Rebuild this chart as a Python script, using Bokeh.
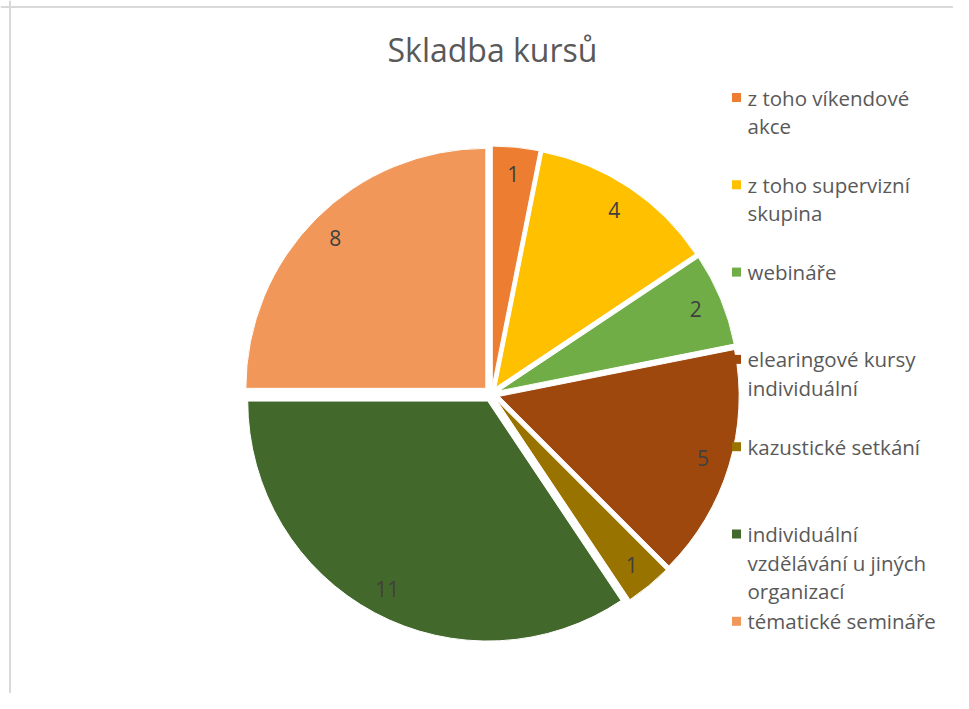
import math
from bokeh.plotting import figure
from bokeh.models import Range1d, Span, ColumnDataSource
from bokeh.embed import file_html
from bokeh.resources import INLINE
from bokeh.core.properties import value

# ---------------- data ----------------
title_text = "Skladba kursů"
categories = [
    "z toho víkendové\nakce",
    "z toho supervizní\nskupina",
    "webináře",
    "elearingové kursy\nindividuální",
    "kazustické setkání",
    "individuální\nvzdělávání u jiných\norganizací",
    " tématické semináře",
]
values = [1, 4, 2, 5, 1, 11, 8]
colors = ["#ED7D31", "#FFC000", "#70AD47", "#9E480E", "#997300", "#43682B", "#F1975A"]

# ---------------- layout (pixel space) ----------------
W, H = 953, 693
def X(xs):  # screen x -> data x
    return xs
def Y(ys):  # screen y -> data y
    return H - ys

CX, CY = X(491), Y(393.5)
R = 240
EXPLODE = 8
LABEL_R = 213
FONT = "Open Sans"

p = figure(width=W, height=H, output_backend="svg", toolbar_location=None,
           x_range=Range1d(0, W), y_range=Range1d(0, H), min_border=0,
           background_fill_color="white", border_fill_color="white")
p.outline_line_color = None
p.axis.visible = False
p.grid.visible = False

# frame border (top/left visible in the reference)
p.add_layout(Span(location=X(9.5), dimension="height", line_color="#d9d9d9", line_width=2))
p.add_layout(Span(location=Y(6.5), dimension="width", line_color="#d9d9d9", line_width=2))

total = float(sum(values))
xs, ys, sa, ea, lx, ly, labs = [], [], [], [], [], [], []
cum = 0.0
for v in values:
    t1 = cum / total
    t2 = (cum + v) / total
    cum += v
    mid = (t1 + t2) / 2 * 2 * math.pi
    ox = CX + EXPLODE * math.sin(mid)
    oy = CY + EXPLODE * math.cos(mid)
    xs.append(ox)
    ys.append(oy)
    sa.append(math.pi / 2 - t2 * 2 * math.pi)
    ea.append(math.pi / 2 - t1 * 2 * math.pi)
    lx.append(ox + LABEL_R * math.sin(mid))
    ly.append(oy + LABEL_R * math.cos(mid))
    labs.append(str(v))

src = ColumnDataSource(dict(x=xs, y=ys, sa=sa, ea=ea, color=colors, lx=lx, ly=ly, lab=labs))
p.wedge(x="x", y="y", radius=R, start_angle="sa", end_angle="ea", direction="anticlock",
        fill_color="color", line_color="white", line_width=1, source=src)
p.text(x="lx", y="ly", text="lab", source=src, text_align="center", text_baseline="middle",
       text_font=value(FONT), text_font_size="21px", text_color="#404040")

# title
p.text(x=[X(492)], y=[Y(49)], text=[title_text], text_align="center", text_baseline="middle",
       text_font=value(FONT), text_font_size="32px", text_color="#595959")

# legend (manual, wrapped labels)
LEG_X_MARK, LEG_X_TEXT = X(736), X(747)
LEG_Y0, LEG_STEP, LINE_STEP = 97, 87.3, 28.5
mx, my, tx, ty, tt = [], [], [], [], []
for i, lab in enumerate(categories):
    y0 = LEG_Y0 + i * LEG_STEP
    mx.append(LEG_X_MARK)
    my.append(Y(y0))
    for j, line in enumerate(lab.split("\n")):
        tx.append(LEG_X_TEXT)
        ty.append(Y(y0 + j * LINE_STEP))
        tt.append(line)
p.scatter(x=mx, y=my, marker="square", size=9, fill_color=colors, line_color=None)
p.text(x=tx, y=ty, text=tt, text_align="left", text_baseline="middle",
       text_font=value(FONT), text_font_size="20.5px", text_color="#595959")

open("out.html", "w").write(file_html(p, INLINE))
